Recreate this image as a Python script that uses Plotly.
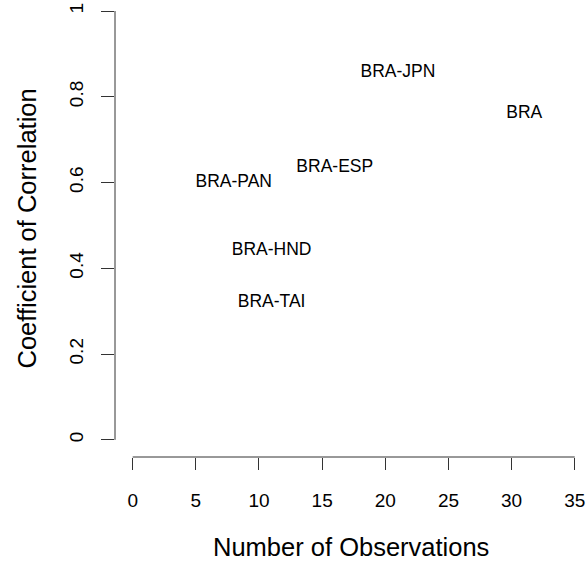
import plotly.graph_objects as go

labels = ["BRA-JPN", "BRA", "BRA-ESP", "BRA-PAN", "BRA-HND", "BRA-TAI"]
n_obs = [21, 31, 16, 8, 11, 11]
corr = [0.857, 0.760, 0.635, 0.600, 0.441, 0.321]

x_ticks = [0, 5, 10, 15, 20, 25, 30, 35]
y_ticks = [0, 0.2, 0.4, 0.6, 0.8, 1]
y_tick_text = ["0", "0.2", "0.4", "0.6", "0.8", "1"]

FONT = "Liberation Sans, Arial, Helvetica, sans-serif"
AX = "#333333"

fig = go.Figure()
fig.add_trace(go.Scatter(
    x=n_obs, y=corr, text=labels, mode="text",
    textposition="middle center",
    textfont=dict(family=FONT, size=17.5, color="black"),
    hoverinfo="skip", showlegend=False,
))

fig.update_layout(
    width=587, height=568,
    margin=dict(l=115, r=0, t=0, b=111),
    paper_bgcolor="white", plot_bgcolor="white",
    font=dict(family=FONT, color="black"),
    xaxis=dict(range=[-1.4, 35.97], tickvals=x_ticks, ticks="outside",
               ticklen=12, tickwidth=1, tickcolor=AX, showgrid=False,
               zeroline=False, showline=False, ticklabelstandoff=14,
               ticklabeloverflow="allow",
               tickfont=dict(size=19, family=FONT, color="black")),
    yaxis=dict(range=[-0.04, 1.0257], tickvals=y_ticks, ticktext=y_tick_text,
               ticks="outside", ticklen=13, tickwidth=1, tickcolor=AX,
               showgrid=False, zeroline=False, showline=False, tickangle=-90,
               ticklabelstandoff=10, ticklabeloverflow="allow",
               tickfont=dict(size=19, family=FONT, color="black")),
    shapes=[
        dict(type="line", xref="paper", yref="y", x0=0, x1=0, y0=0, y1=1,
             line=dict(color=AX, width=1)),
        dict(type="line", xref="x", yref="paper", x0=0, x1=35, y0=0, y1=0,
             line=dict(color=AX, width=1)),
    ],
    annotations=[
        dict(text="Number of Observations", xref="paper", yref="paper",
             x=0.5, y=0, yanchor="middle", xanchor="center", yshift=-90,
             showarrow=False, font=dict(size=25.5, family=FONT, color="black")),
        dict(text="Coefficient of Correlation", xref="paper", yref="paper",
             x=0, y=0.5, xanchor="center", yanchor="middle", xshift=-89,
             textangle=-90, showarrow=False,
             font=dict(size=25.5, family=FONT, color="black")),
    ],
)

fig.write_html("out.html",
               config={"displayModeBar": False},
               post_script="document.body.style.margin='0';"
                           "document.body.style.overflow='hidden';")
